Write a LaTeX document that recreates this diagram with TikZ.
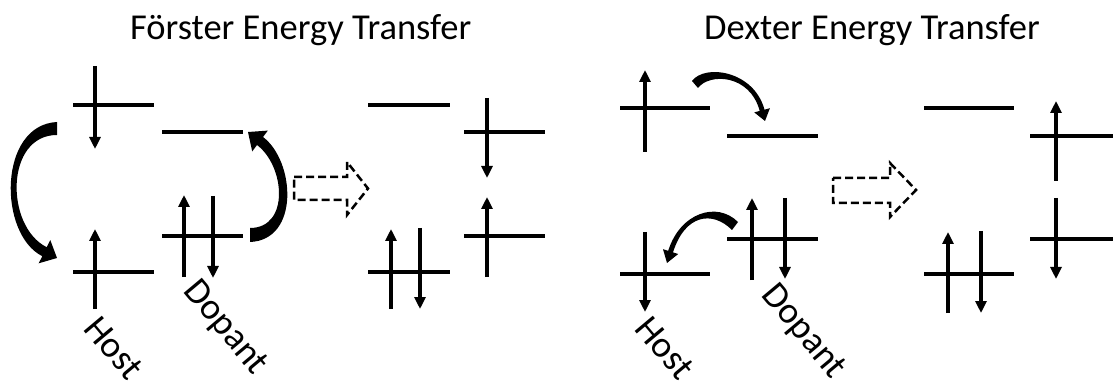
\documentclass[tikz,border=0pt]{standalone}
\usepackage{fontspec}
\setmainfont{Carlito}
\usetikzlibrary{arrows.meta}
\begin{document}
\begin{tikzpicture}[x=1pt,y=-1pt,
  lvl/.style={line width=3.6pt},
  spin/.style={line width=3.5pt,-{Triangle[width=11pt,length=12pt]}},
  bendarrow/.style={fill=black},
  hollow/.style={draw,line width=2.5pt,dash pattern=on 8pt off 4pt,line join=miter},
  title/.style={font=\fontsize{36.5}{43}\selectfont,anchor=base west,inner sep=0pt},
  lab/.style={font=\fontsize{37}{43}\selectfont,rotate=-50,inner sep=0pt}]
\useasboundingbox (0,0) rectangle (1113,387);

% ---------------- Forster ----------------
\node[title] (ft) at (130,40) {Förster Energy Transfer};
\draw[lvl] (73,105) -- (154,105);
\draw[lvl] (162,132) -- (243,132);
\draw[lvl] (73,272) -- (154,272);
\draw[lvl] (162,236) -- (243,236);
\draw[spin] (95,66) -- (95,149);
\draw[spin] (95,309) -- (95,229);
\draw[spin] (184,277) -- (184,195);
\draw[spin] (213,196) -- (213,278);

\fill[bendarrow] (57,122) .. controls (-2,125) and (-2,234) .. (42.3,256.2) -- (38.7,263.3) -- (57,258) -- (50.3,240.1) -- (46.7,247.2) .. controls (5,226.4) and (5,135) .. (57,135) -- cycle;
\fill[bendarrow] (250,242) .. controls (300,240) and (295,161) .. (263,137) -- (267.8,130.6) -- (248,132) -- (252.2,151.4) -- (257,145) .. controls (285,166) and (290,228) .. (250,228) -- cycle;

\draw[hollow] (294,177) -- (347,177) -- (347,162) -- (368,188.5) -- (347,215) -- (347,200) -- (294,200) -- cycle;

\draw[lvl] (368,105) -- (450,105);
\draw[lvl] (464,132) -- (545,132);
\draw[lvl] (464,236) -- (545,236);
\draw[lvl] (368,272) -- (450,272);
\draw[spin] (487,98) -- (487,178);
\draw[spin] (487,277) -- (487,197);
\draw[spin] (391,309) -- (391,229);
\draw[spin] (420,228) -- (420,309);

\node[lab] (fh) at (114,348) {Host};
\node[lab] (fd) at (225,328) {Dopant};

% ---------------- Dexter ----------------
\node[title] (dt) at (704,40) {Dexter Energy Transfer};
\draw[lvl] (620,108) -- (710,108);
\draw[lvl] (727,136) -- (818,136);
\draw[lvl] (620,274) -- (710,274);
\draw[lvl] (727,239) -- (818,239);
\draw[spin] (645,152) -- (645,70);
\draw[spin] (645,232) -- (645,312);
\draw[spin] (752,280) -- (752,198);
\draw[spin] (785,198) -- (785,279);

\fill[bendarrow] (692,81) .. controls (705.2,63.4) and (754.1,70.9) .. (764.5,109.7) -- (769.9,108.2) -- (765,121) -- (754.3,112.4) -- (759.7,110.9) .. controls (749.8,74.1) and (709.4,72.8) .. (698,88) -- cycle;
\fill[bendarrow] (738,222) .. controls (717,201) and (680.2,212.6) .. (668.2,250.8) -- (663,249.2) -- (667,263) -- (678.2,254) -- (673,252.4) .. controls (685,214.2) and (712.4,210.4) .. (732,230) -- cycle;

\draw[hollow] (833,178) -- (890,178) -- (890,163) -- (916,190) -- (890,217) -- (890,203) -- (833,203) -- cycle;

\draw[lvl] (924,108) -- (1014,108);
\draw[lvl] (1030,136) -- (1113,136);
\draw[lvl] (1030,239) -- (1113,239);
\draw[lvl] (924,274) -- (1014,274);
\draw[spin] (1056,181) -- (1056,101);
\draw[spin] (1056,198) -- (1056,279);
\draw[spin] (948,313) -- (948,232);
\draw[spin] (981,231) -- (981,313);

\node[lab] (dh) at (665,348) {Host};
\node[lab] (dd) at (803,332) {Dopant};
\end{tikzpicture}
\end{document}
